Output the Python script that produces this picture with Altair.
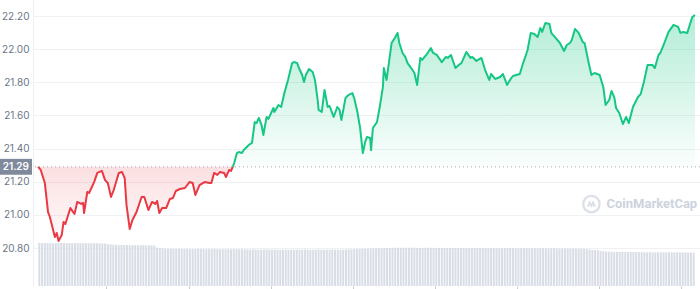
import altair as alt
import pandas as pd

# ---- data ----
baseline = 21.29
times = [0, 6, 15, 22, 26, 37, 41, 45, 52, 56, 60, 71, 80, 86, 95, 99, 101, 108, 112, 123,
         130, 140, 147, 153, 160, 166, 177, 184, 190, 194, 201, 207, 216, 227, 233, 242, 250, 257, 261, 266,
         272, 281, 289, 296, 302, 311, 322, 332, 339, 345, 354, 365, 376, 380, 386, 393, 399, 408, 412, 419,
         423, 427,
         430, 436, 440, 447, 451, 462, 469, 475, 479, 484, 490, 494, 501, 505, 516, 518, 527, 533, 540, 548,
         557, 561, 568, 572, 579, 583, 587, 594, 602, 607, 613, 615, 622, 628, 635, 639, 648, 656, 661, 665,
         674, 680, 689, 693, 700, 706, 712, 717, 721, 728, 730, 734, 743, 749, 756, 758, 764, 769, 775, 782,
         788, 792, 799, 805, 810, 818, 825, 831, 838, 842, 851, 861, 866, 874, 885, 894, 898, 905, 915, 922,
         928, 939, 948, 952, 961, 972, 980, 989, 993, 1002, 1013, 1019, 1028, 1036, 1041, 1056, 1062, 1073,
         1080, 1088, 1095, 1101, 1105, 1112, 1121, 1125, 1133, 1144, 1153, 1159, 1166, 1170, 1177, 1185,
         1194, 1198, 1207, 1213, 1220, 1231, 1239, 1244, 1252, 1257, 1263, 1267, 1274, 1282, 1289, 1295,
         1304, 1315, 1321, 1328, 1336, 1347, 1352, 1360, 1364, 1371, 1382, 1393, 1403, 1408, 1414, 1423,
         1425, 1434, 1440]
prices = [21.290, 21.271, 21.192, 21.017, 20.987, 20.866, 20.891, 20.842, 20.878, 20.957,
          20.945, 21.041, 21.005, 21.078, 21.066, 21.072, 21.011, 21.138, 21.132, 21.198,
          21.253, 21.265, 21.210, 21.192, 21.108, 21.150, 21.253, 21.259, 21.222, 21.060,
          20.915, 20.969, 21.017, 21.108, 21.108, 21.029, 21.078, 21.066, 21.084, 21.011,
          21.041, 21.041, 21.096, 21.102, 21.144, 21.156, 21.162, 21.198, 21.192, 21.120,
          21.180, 21.198, 21.192, 21.192, 21.253, 21.241, 21.259, 21.253, 21.228, 21.271,
          21.265, 21.290,
          21.313, 21.373, 21.379, 21.373, 21.391, 21.422, 21.434, 21.560, 21.554, 21.585,
          21.542, 21.482, 21.591, 21.579, 21.645, 21.621, 21.663, 21.651, 21.735, 21.814,
          21.916, 21.922, 21.916, 21.886, 21.844, 21.802, 21.844, 21.880, 21.862, 21.814,
          21.693, 21.633, 21.621, 21.754, 21.651, 21.657, 21.591, 21.651, 21.633, 21.572,
          21.705, 21.723, 21.735, 21.705, 21.621, 21.524, 21.373, 21.440, 21.470, 21.464,
          21.391, 21.524, 21.560, 21.651, 21.772, 21.886, 21.814, 21.916, 22.037, 22.067,
          22.098, 22.037, 21.977, 21.953, 21.916, 21.886, 21.856, 21.784, 21.947, 21.935,
          21.965, 22.007, 21.977, 21.965, 21.922, 21.953, 21.947, 21.965, 21.886, 21.904,
          21.916, 21.983, 21.947, 21.953, 21.929, 21.947, 21.874, 21.814, 21.850, 21.820,
          21.832, 21.850, 21.784, 21.820, 21.838, 21.850, 21.904, 21.995,
          22.098, 22.091, 22.073, 22.128, 22.104, 22.158, 22.152, 22.098, 22.073, 22.037,
          21.989, 22.025, 22.037, 22.055, 22.122, 22.098,
          22.043, 22.037, 21.916, 21.844, 21.856, 21.844, 21.772, 21.663, 21.693, 21.748,
          21.711, 21.645, 21.615, 21.548, 21.591, 21.554,
          21.651, 21.711, 21.729, 21.802, 21.904, 21.904, 21.886, 21.965, 21.977, 22.025,
          22.104, 22.146, 22.134, 22.098, 22.104, 22.098,
          22.116, 22.194, 22.206]
volumes = [432, 430, 431, 429, 430, 428, 431, 430, 429, 430, 428, 430, 429, 431, 430, 428, 429, 430, 428, 427,
           429, 428, 426, 427, 425,
           418, 415, 413, 412, 410, 411, 409, 410, 408, 410, 409, 407, 408, 409, 406, 407, 405, 404,
           385, 380, 376, 374, 372, 373, 371, 370, 372, 369, 371, 370, 368, 370, 369, 371, 370, 368, 367, 369,
           368, 370, 369, 367, 368, 366, 368, 367, 369, 368, 366, 367,
           366, 365, 364, 366, 365, 363, 364, 365, 366, 364, 363, 365, 364, 362, 364, 365, 363, 364, 362, 365,
           364, 363, 365, 364, 362, 363, 364, 365, 363, 362, 364, 363, 365, 364, 363, 362, 364, 365, 366, 367,
           368, 369, 370, 371,
           372, 374, 375, 376, 377, 378, 379, 380, 381, 380, 382, 381, 383, 382, 381, 383, 384, 382, 383, 381,
           382, 380, 381, 383, 382, 381, 380, 382, 381, 380, 379, 381, 380, 382, 381, 380, 379, 380, 378, 379,
           380, 381, 379, 378, 380, 379, 378, 379, 380, 378, 377, 379, 378, 380, 379, 377, 378, 379, 377, 378,
           376, 377, 378, 376, 377, 378, 376, 375, 377, 376, 375, 374, 376, 375, 374, 373, 375, 374, 372, 373,
           370, 368, 365, 362, 360, 358,
           352, 348, 345, 343, 342, 341, 342, 340, 341, 339, 340, 341, 339, 338, 340, 339, 338, 337, 339, 338,
           337, 338, 336, 337, 338, 336, 337, 335, 336, 337, 335, 336, 334, 335, 334]
y_ticks = [20.8, 21.0, 21.2, 21.4, 21.6, 21.8, 22.0, 22.2]
x_ticks = [150, 330, 510, 690, 870, 1050, 1230, 1410]
crossing_t = 427

df = pd.DataFrame({"t": times, "price": prices})
df["base"] = baseline
red_df = df[df.t <= crossing_t]
green_df = df[df.t >= crossing_t]
vdf = pd.DataFrame({"t": [3 + 6 * i for i in range(len(volumes))], "vol": volumes})

GREEN = "#16c784"
RED = "#ea3943"
FONT = "Inter"
WM = "#cdd3de"

xscale = alt.Scale(domain=[0, 1440], nice=False, zero=False)
yscale = alt.Scale(domain=[20.5707, 22.2966], nice=False, zero=False)

x_axis = alt.Axis(values=x_ticks, labels=False, domain=False, grid=False, ticks=True,
                  tickSize=4, tickColor="#c4c9d3", title=None)
y_axis = alt.Axis(values=y_ticks, format=".2f", title=None, ticks=False, tickSize=0,
                  labelPadding=4, labelFontSize=10, labelFont=FONT, labelColor="#6c7588",
                  grid=True, gridColor="#eff1f4", domain=True, domainColor="#eceff3")

X = alt.X("t:Q", scale=xscale, axis=x_axis)
Y = alt.Y("price:Q", scale=yscale, axis=y_axis)

green_grad = alt.Gradient(gradient="linear", x1=1, x2=1, y1=0, y2=1,
                          stops=[alt.GradientStop(color="rgba(22,199,132,0.32)", offset=0),
                                 alt.GradientStop(color="rgba(22,199,132,0.02)", offset=1)])
red_grad = alt.Gradient(gradient="linear", x1=1, x2=1, y1=0, y2=1,
                        stops=[alt.GradientStop(color="rgba(234,57,67,0.16)", offset=0),
                               alt.GradientStop(color="rgba(234,57,67,0.02)", offset=1)])

red_area = alt.Chart(red_df).mark_area(color=red_grad).encode(x=X, y=Y, y2="base:Q")
green_area = alt.Chart(green_df).mark_area(color=green_grad).encode(x=X, y=Y, y2="base:Q")
base_rule = alt.Chart().mark_rule(color="#a3abb9", strokeDash=[1, 3], strokeWidth=1).encode(
    y=alt.datum(baseline, scale=yscale, axis=y_axis))
red_line = alt.Chart(red_df).mark_line(color=RED, strokeWidth=2, strokeJoin="round").encode(x=X, y=Y)
green_line = alt.Chart(green_df).mark_line(color=GREEN, strokeWidth=2, strokeJoin="round").encode(x=X, y=Y)
label_box = alt.Chart().mark_rect(color="#808a9d").encode(
    x=alt.value(-33), x2=alt.value(-1),
    y=alt.datum(baseline + 0.048, scale=yscale, axis=y_axis), y2=alt.datum(baseline - 0.048))
label_text = alt.Chart().mark_text(color="white", fontSize=10, fontWeight=600, font=FONT,
                                   align="right", baseline="middle").encode(
    x=alt.value(-4), y=alt.datum(baseline, scale=yscale, axis=y_axis), text=alt.datum("21.29"))
wm_text = alt.Chart().mark_text(color=WM, fontSize=13, fontWeight="bold", font="Roboto",
                                align="left", baseline="middle").encode(
    x=alt.datum(1246, scale=xscale, axis=x_axis), y=alt.datum(21.065, scale=yscale, axis=y_axis),
    text=alt.datum("CoinMarketCap"))
wm_ring = alt.Chart().mark_point(shape="circle", size=270, filled=False, color=WM,
                                 strokeWidth=2.2).encode(
    x=alt.datum(1213, scale=xscale, axis=x_axis), y=alt.datum(21.065, scale=yscale, axis=y_axis))
wm_m = alt.Chart().mark_point(shape="M -0.9 0.6 L -0.45 -0.5 L 0 0.3 L 0.45 -0.5 L 0.9 0.6",
                              size=60, filled=False, color=WM, strokeWidth=2).encode(
    x=alt.datum(1213, scale=xscale, axis=x_axis), y=alt.datum(21.062, scale=yscale, axis=y_axis))

price_layer = alt.layer(red_area, green_area, base_rule, red_line, green_line,
                        label_box, label_text, wm_ring, wm_m, wm_text)

vol_bars = alt.Chart(vdf).mark_bar(color="#d9dde6", width=2).encode(
    x=X,
    y=alt.Y("vol:Q", scale=alt.Scale(domain=[0, 2860], nice=False), axis=None))

chart = alt.layer(vol_bars, price_layer).resolve_scale(y="independent").properties(
    width=667, height=286,
    autosize=alt.AutoSizeParams(type="none"),
    padding={"left": 33, "top": 0, "right": 0, "bottom": 3},
    background="white",
).configure_view(stroke=None)

chart.save("out.html", embed_options={"renderer": "svg", "actions": False})
